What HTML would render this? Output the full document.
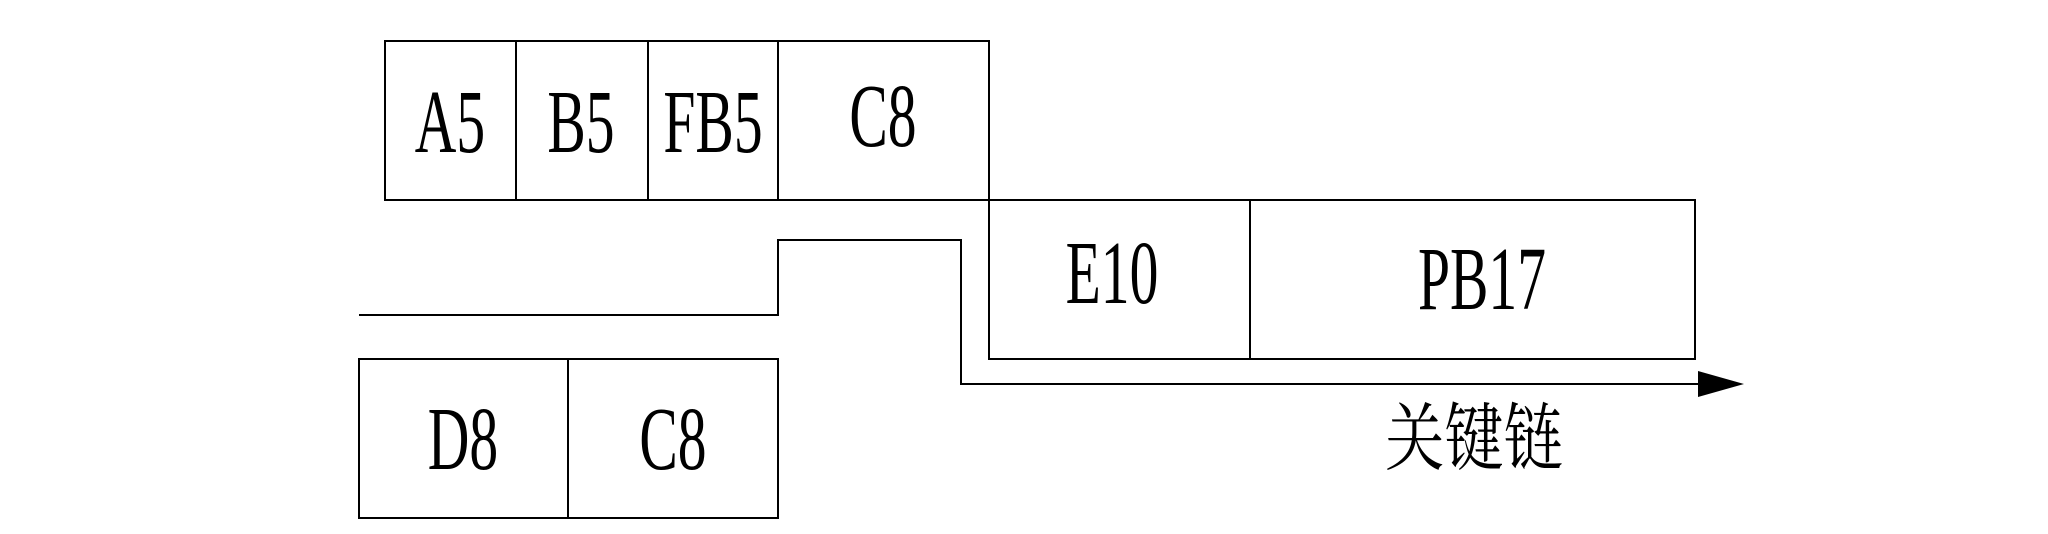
<!DOCTYPE html>
<html><head><meta charset="utf-8"><style>html,body{margin:0;padding:0;background:#fff}svg{display:block}</style></head>
<body>
<svg width="2048" height="534" viewBox="0 0 2048 534" xmlns="http://www.w3.org/2000/svg">
<g fill="none" stroke="#000" stroke-width="2">
<rect x="385" y="41" width="604" height="159"/>
<line x1="516" y1="41" x2="516" y2="200"/>
<line x1="648" y1="41" x2="648" y2="200"/>
<line x1="778" y1="41" x2="778" y2="200"/>
<rect x="989" y="200" width="706" height="159"/>
<line x1="1250" y1="200" x2="1250" y2="359"/>
<rect x="359" y="359" width="419" height="159"/>
<line x1="568" y1="359" x2="568" y2="518"/>
<polyline points="359,315 778,315 778,240 961,240 961,384 1700,384"/>
</g>
<polygon points="1698,371 1744,384 1698,397" fill="#000"/>
<g style="font-family:'Liberation Serif', serif" font-size="90" text-anchor="middle" fill="#000">
<text transform="translate(450,152) scale(0.64,1)">A5</text>
<text transform="translate(581,152) scale(0.64,1)">B5</text>
<text transform="translate(713,152) scale(0.64,1)">FB5</text>
<text transform="translate(883,146) scale(0.64,1)">C8</text>
<text transform="translate(1112,303) scale(0.64,1)">E10</text>
<text transform="translate(1482,309) scale(0.64,1)">PB17</text>
<text transform="translate(463,469) scale(0.64,1)">D8</text>
<text transform="translate(673,469) scale(0.64,1)">C8</text>
</g>
<text transform="translate(1474,464) scale(0.8,1)" style="font-family:'Liberation Serif', 'Noto Serif CJK SC', serif" font-size="74" text-anchor="middle">关键链</text>
</svg>
</body></html>
